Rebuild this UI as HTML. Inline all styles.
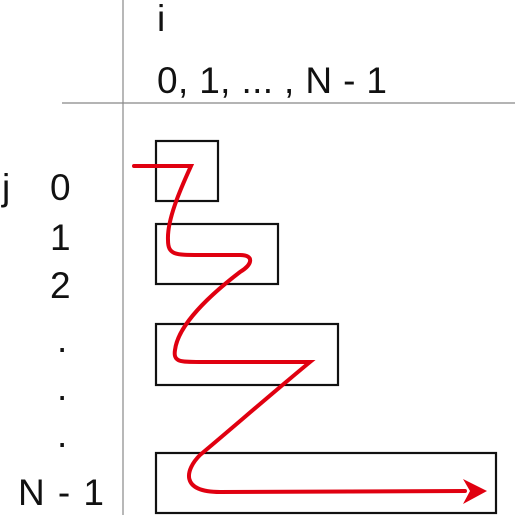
<!DOCTYPE html>
<html><head><meta charset="utf-8"><style>
body{margin:0;background:#fff}
svg{display:block}
text{font-family:"Liberation Sans",sans-serif;font-size:37px;fill:#111}
</style></head><body>
<svg width="515" height="515" viewBox="0 0 515 515">
<line x1="123" y1="0" x2="123" y2="515" stroke="#888" stroke-width="1.2"/>
<line x1="62" y1="103" x2="515" y2="103" stroke="#888" stroke-width="1.2"/>
<text x="157" y="31">i</text>
<text x="157" y="93" textLength="230">0, 1, ... , N - 1</text>
<text x="2" y="200">j</text>
<text x="50" y="200">0</text>
<text x="50" y="250">1</text>
<text x="50" y="298">2</text>
<text x="57" y="352">.</text>
<text x="57" y="400">.</text>
<text x="57" y="447">.</text>
<text x="18" y="505" textLength="86">N - 1</text>
<g fill="none" stroke="#111" stroke-width="2.2">
<rect x="156" y="141" width="62" height="60"/>
<rect x="156" y="224" width="122" height="60"/>
<rect x="156" y="324" width="182" height="61"/>
<rect x="156" y="453" width="340" height="60"/>
</g>
<path d="M134,166 L191,166 C180,190 167,220 168,240 C168,255 175,255 200,255 L240,255 C255,255 252,265 240,272 C210,295 178,325 175,350 C173,362 180,362 200,362 L310,362 C270,395 230,430 200,455 C185,470 180,492 220,492 L465,491" fill="none" stroke="#e00010" stroke-width="4" stroke-linecap="round"/>
<path d="M487,491 L463,479 L470,491 L463,504 Z" fill="#e00010"/>
</svg>
</body></html>
